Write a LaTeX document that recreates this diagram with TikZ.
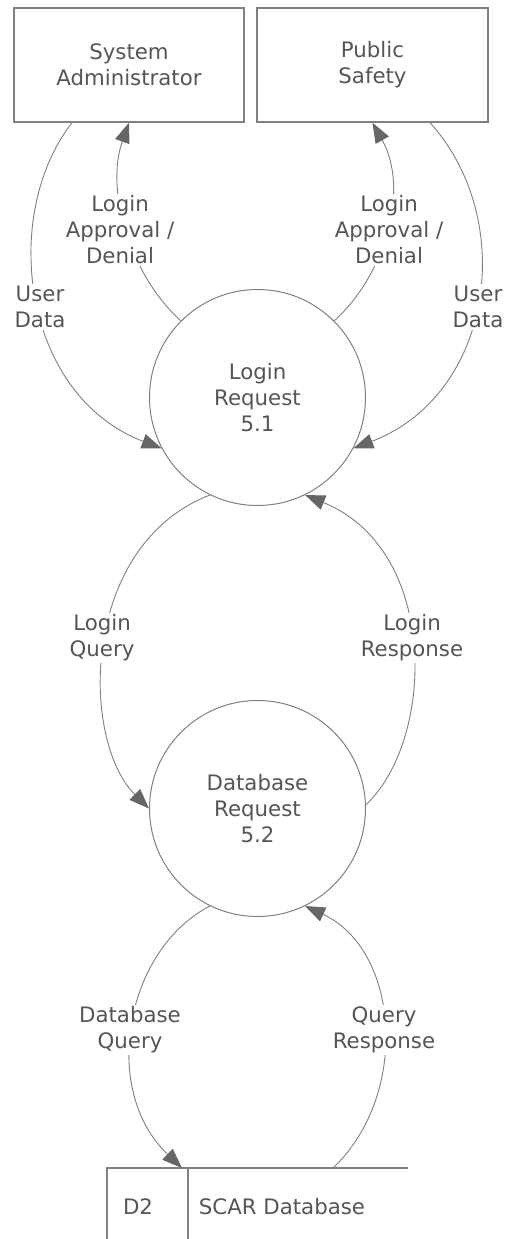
\documentclass[tikz,border=0pt]{standalone}
\usepackage{fontspec}
\setmainfont{DejaVu Sans}
\usetikzlibrary{arrows.meta}
\definecolor{lc}{HTML}{808080}
\definecolor{tc}{HTML}{555555}
\definecolor{ac}{HTML}{666666}
\tikzset{
  txt/.style={font=\fontsize{21.3}{26}\selectfont, text=tc, align=center},
  extbox/.style={txt, draw=lc, line width=1.4pt, minimum width=230pt, minimum height=114pt},
  proc/.style={txt, draw=lc, line width=1pt, circle, minimum size=216pt, inner sep=0pt},
  flow/.style={draw=lc, line width=0.9pt, -{Triangle[length=20pt,width=15pt,fill=ac,color=ac]}},
  lbl/.style={txt, fill=white, inner sep=2pt},
  storeline/.style={draw=lc, line width=1.4pt}
}
\begin{document}
\begin{tikzpicture}[x=1pt,y=-1pt]
\useasboundingbox (0,0) rectangle (506,1239);
% external entities
\node[extbox] (sa) at (129,65) {System\\Administrator};
\node[extbox, minimum width=231pt] (ps) at (372.5,65) {Public\\Safety};
% processes
\node[proc] (c1) at (257.5,397.5) {Login\\Request\\5.1};
\node[proc] (c2) at (257.5,808.5) {Database\\Request\\5.2};
% data store
\node[txt] (d2) at (138,1207) {D2};
\node[txt] (scar) at (282,1207) {SCAR Database};
\coordinate (stl) at (107,1168);
\coordinate (str) at (408,1168);
\coordinate (stdiv) at (188,1168);
\coordinate (dbin) at (182,1168);
\coordinate (qrout) at (333,1168);
\draw[storeline] (107,1239) -- (stl) -- (str);
\draw[storeline] (stdiv) -- (188,1239);
% flows
\draw[flow] ([xshift=-57pt]sa.south) .. controls (0,215) and (22,395) .. (c1.208);
\draw[flow] (c1.135) .. controls (130,275) and (105,190) .. (sa.south);
\draw[flow] (c1.45) .. controls (385,275) and (410,190) .. (ps.south);
\draw[flow] ([xshift=57.5pt]ps.south) .. controls (518,220) and (493,395) .. (c1.332);
\draw[flow] (c1.244) .. controls (80,545) and (80,740) .. (c2.180);
\draw[flow] (c2.2) .. controls (435,740) and (440,550) .. (c1.296);
\draw[flow] (c2.244) .. controls (125,950) and (100,1090) .. (dbin);
\draw[flow] (qrout) .. controls (410,1095) and (400,950) .. (c2.296);
% labels
\node[lbl] (l1) at (40,307) {User\\Data};
\node[lbl] (l2) at (120,230) {Login\\Approval /\\Denial};
\node[lbl] (l3) at (389,230) {Login\\Approval /\\Denial};
\node[lbl] (l4) at (478,307) {User\\Data};
\node[lbl] (l5) at (102,638) {Login\\Query};
\node[lbl] (l6) at (412,638) {Login\\Response};
\node[lbl] (l7) at (130,1030) {Database\\Query};
\node[lbl] (l8) at (384,1030) {Query\\Response};
\end{tikzpicture}
\end{document}
